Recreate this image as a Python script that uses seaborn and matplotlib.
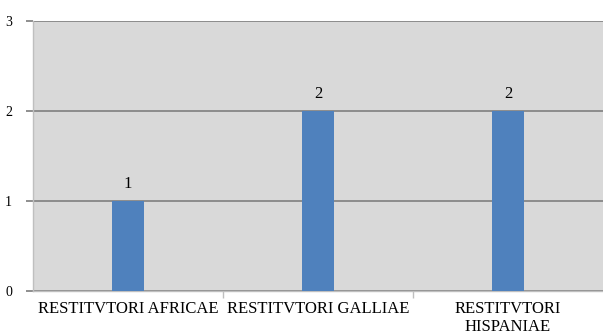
import numpy as np
import pandas as pd
import matplotlib
matplotlib.use("Agg")
import matplotlib.pyplot as plt
import seaborn as sns

# Chart data
categories = ["RESTITVTORI AFRICAE", "RESTITVTORI GALLIAE", "RESTITVTORI\nHISPANIAE"]
counts = [1, 2, 2]
y_ticks = [0, 1, 2, 3]

bar_color = "#4F81BD"
bg_color = "#D9D9D9"
grid_color = "#868686"


def main():
    sns.set_theme(style="white", rc={"text.color": "black",
                                     "xtick.color": "black",
                                     "ytick.color": "black"})
    plt.rcParams['font.family'] = ['Liberation Serif', 'DejaVu Serif']

    df = pd.DataFrame({"Category": categories, "Count": counts})

    fig = plt.figure(figsize=(6.03, 3.34), dpi=100)
    ax = fig.add_axes([33 / 603, 43 / 334, 570 / 603, 270 / 334])
    ax.set_facecolor(bg_color)

    sns.barplot(data=df, x="Category", y="Count", color=bar_color,
                width=0.168, saturation=1, ax=ax, zorder=3,
                edgecolor="none", linewidth=0)

    ax.set_ylim(0, 3)
    ax.set_xlim(-0.5, 2.5)
    ax.set_yticks(y_ticks)
    ax.set_yticklabels([str(t) for t in y_ticks], fontsize=10)
    ax.yaxis.grid(True, color=grid_color, linewidth=1.3, zorder=1)
    ax.set_axisbelow(True)
    ax.tick_params(axis='y', length=5, color=grid_color, width=1.3, pad=10,
                   left=True, labelcolor="black")

    ax.set_xticks(range(len(categories)))
    ax.set_xticklabels(categories, fontsize=12, linespacing=1.15)
    ax.set_xticks([0.5, 1.5], minor=True)
    ax.tick_params(axis='x', which='major', length=0, pad=7, labelcolor="black")
    ax.tick_params(axis='x', which='minor', length=5, color="#BFBFBF", width=1, bottom=True)
    ax.set_xlabel("")
    ax.set_ylabel("")

    for side in ['top', 'right']:
        ax.spines[side].set_visible(False)
    ax.spines['left'].set_color("#BFBFBF")
    ax.spines['left'].set_linewidth(1)
    ax.spines['bottom'].set_color("#BFBFBF")
    ax.spines['bottom'].set_linewidth(1)

    for i, v in enumerate(counts):
        ax.text(i, v + 0.1, str(v), ha='center', va='bottom', fontsize=12,
                color="black", zorder=4)

    fig.savefig("out.png", dpi=100)


if __name__ == "__main__":
    main()
